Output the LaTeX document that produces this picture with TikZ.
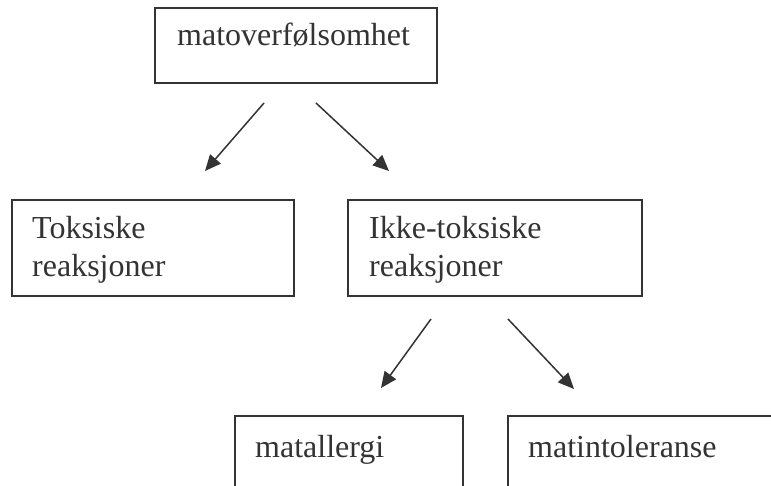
\documentclass[tikz,border=0pt]{standalone}
\usepackage{fontspec}
\setmainfont{Liberation Serif}
\usetikzlibrary{arrows.meta}
\definecolor{ink}{HTML}{333333}
\begin{document}
\begin{tikzpicture}[x=1pt,y=-1pt,
  box/.style={draw=ink,line width=2pt},
  lbl/.style={anchor=base west,inner sep=0pt,text=ink,font=\fontsize{32}{37}\selectfont},
  arr/.style={draw=ink,line width=1.5pt,-{Triangle[length=16pt,width=14pt]}}]
\useasboundingbox (0,0) rectangle (771,486);
\clip (0,0) rectangle (771,486);
\fill[white] (0,0) rectangle (771,486);
% boxes
\draw[box] (155,8) rectangle (437,83);
\draw[box] (12,200) rectangle (294,296);
\draw[box] (348,200) rectangle (642,296);
\draw[box] (235,500) -- (235,416) -- (463,416) -- (463,500);
\draw[box] (508,500) -- (508,416) -- (790,416);
% texts
\node[lbl] (top) at (177,46) {matoverfølsomhet};
\node[lbl] (tok1) at (32,239) {Toksiske};
\node[lbl] (tok2) at (32,277) {reaksjoner};
\node[lbl] (ikk1) at (369,239) {Ikke-toksiske};
\node[lbl] (ikk2) at (369,277) {reaksjoner};
\node[lbl] (all) at (255,457) {matallergi};
\node[lbl] (int) at (528,457) {matintoleranse};
% arrow end points
\coordinate (a1s) at (264,103);
\coordinate (a1e) at (205,171);
\coordinate (a2s) at (316,103);
\coordinate (a2e) at (389,171);
\coordinate (a3s) at (431,319);
\coordinate (a3e) at (381,388);
\coordinate (a4s) at (508,319);
\coordinate (a4e) at (574,389);
\draw[arr] (a1s) -- (a1e);
\draw[arr] (a2s) -- (a2e);
\draw[arr] (a3s) -- (a3e);
\draw[arr] (a4s) -- (a4e);
\end{tikzpicture}
\end{document}
